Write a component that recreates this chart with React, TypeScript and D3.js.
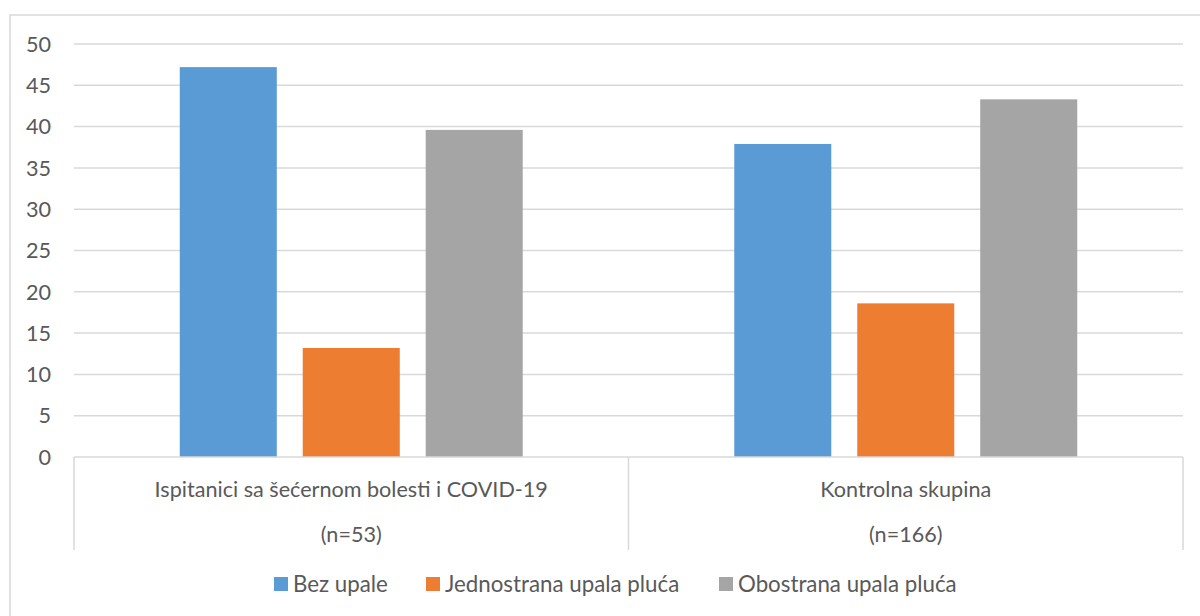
import React from "react";
import * as d3 from "d3";

const categories = ["Ispitanici sa šećernom bolesti i COVID-19", "Kontrolna skupina"];
const subLabels = ["(n=53)", "(n=166)"];
const seriesNames = ["Bez upale", "Jednostrana upala pluća", "Obostrana upala pluća"];
const colors = ["#5B9BD5", "#ED7D31", "#A5A5A5"];
const bezUpale = [47.2, 37.9];
const jednostrana = [13.2, 18.6];
const obostrana = [39.6, 43.3];
const yTicks = [0, 5, 10, 15, 20, 25, 30, 35, 40, 45, 50];

const W = 1200, H = 616;
const left = 74, right = 1183, top = 44, bottom = 457;
const FONT = "Lato, 'Open Sans', sans-serif";
const TXT = "#595959";
const FS = 21.6;

export default function App() {
  const series = [bezUpale, jednostrana, obostrana];
  const y = d3.scaleLinear().domain([0, 50]).range([bottom, top]);
  const x0 = d3.scaleBand<string>().domain(categories).range([left, right]).paddingInner(0).paddingOuter(0);
  const x1 = d3.scaleBand<string>().domain(seriesNames).range([0, x0.bandwidth()]).paddingInner(0.211).paddingOuter(0.86);
  const legendX = [274, 426, 719];
  return (
    <svg width={W} height={H} style={{ position: "absolute", left: 0, top: 0, background: "#fff" }} fontFamily={FONT}>
      <rect x={10} y={15} width={1200} height={620} fill="#fff" stroke="#d9d9d9" strokeWidth={1.5} />
      {yTicks.map((t) => (
        <g key={t}>
          {t > 0 && <line x1={left} x2={right} y1={y(t)} y2={y(t)} stroke="#d9d9d9" strokeWidth={1.5} />}
          <text x={51} y={y(t)} dy="0.36em" textAnchor="end" fontSize={FS} fill={TXT}>{t}</text>
        </g>
      ))}
      {series.map((vals, si) =>
        categories.map((c, ci) => (
          <rect key={si + "-" + ci} x={(x0(c) as number) + (x1(seriesNames[si]) as number)} width={x1.bandwidth()}
            y={y(vals[ci])} height={bottom - y(vals[ci])} fill={colors[si]} />
        ))
      )}
      <line x1={left} x2={right} y1={bottom} y2={bottom} stroke="#d9d9d9" strokeWidth={1.5} />
      {[left, left + x0.bandwidth(), right].map((xx, i) => (
        <line key={i} x1={xx} x2={xx} y1={bottom} y2={550} stroke="#d9d9d9" strokeWidth={1.5} />
      ))}
      {categories.map((c, ci) => (
        <g key={c}>
          <text x={(x0(c) as number) + x0.bandwidth() / 2} y={497} textAnchor="middle" fontSize={FS} fill={TXT}>{c}</text>
          <text x={(x0(c) as number) + x0.bandwidth() / 2} y={542} textAnchor="middle" fontSize={FS} fill={TXT}>{subLabels[ci]}</text>
        </g>
      ))}
      {seriesNames.map((s, i) => (
        <g key={s}>
          <rect x={legendX[i]} y={577} width={14} height={14} fill={colors[i]} />
          <text x={legendX[i] + 19} y={592} fontSize={22.3} fill={TXT}>{s}</text>
        </g>
      ))}
    </svg>
  );
}
